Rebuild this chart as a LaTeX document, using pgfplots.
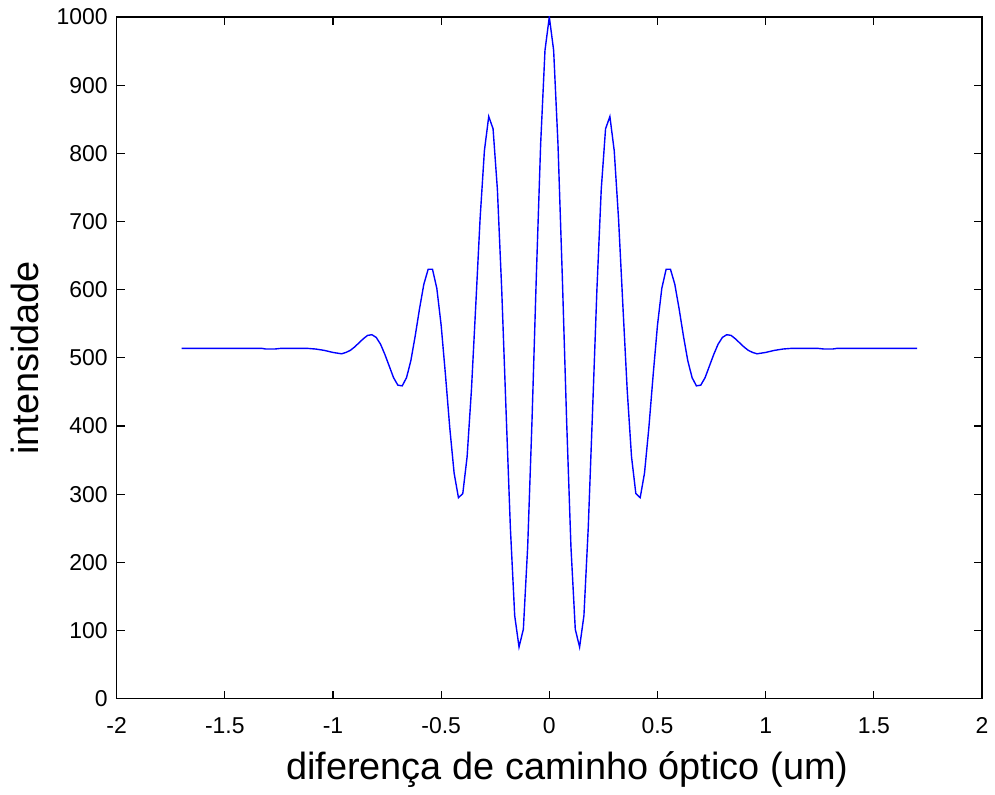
\documentclass[border=0pt]{standalone}
\usepackage{fontspec}
\setmainfont{Liberation Sans}
\usepackage{pgfplots}
\pgfplotsset{compat=1.18}

\begin{document}
\begin{tikzpicture}
\begin{axis}[
    scale only axis,
    width=434pt, height=342pt,
    xmin=-2, xmax=2, ymin=0, ymax=1000,
    xtick={-2,-1.5,...,2},
    ytick={0,100,...,1000},
    tick align=inside,
    major tick length=4pt,
    tick style={black, line width=0.6pt},
    axis line style={line width=0.6pt},
    /pgf/number format/assume math mode=true,
    /pgf/number format/.cd, fixed, 1000 sep={},
    /pgfplots/.cd,
    ticklabel style={font=\fontsize{11.5}{13}\selectfont},
    xticklabel style={yshift=-6pt},
    yticklabel style={xshift=-1pt},
    label style={font=\fontsize{19}{22}\selectfont},
    xlabel={diferença de caminho óptico (um)},
    ylabel={intensidade},
    xlabel style={yshift=-2pt, xshift=9pt},
    ylabel style={yshift=2pt},
]
\addplot[color={rgb,255:red,0;green,0;blue,255}, line width=0.7pt, line join=miter] coordinates {
(-1.70,514) (-1.33,514) (-1.31,513) (-1.27,513) (-1.24,514) (-1.12,514) (-1.08,513) (-1.04,511)
(-1.00,508) (-0.98,507) (-0.96,506) (-0.94,508) (-0.92,511) (-0.90,516) (-0.88,522) (-0.86,528)
(-0.84,533) (-0.82,534) (-0.80,530) (-0.78,520) (-0.76,505) (-0.74,488) (-0.72,471) (-0.70,460)
(-0.68,459) (-0.66,471) (-0.64,496) (-0.62,532) (-0.60,572) (-0.58,608) (-0.56,630) (-0.54,630)
(-0.52,602) (-0.50,548) (-0.48,475) (-0.46,397) (-0.44,331) (-0.42,295) (-0.40,301) (-0.38,355)
(-0.36,453) (-0.34,577) (-0.32,704) (-0.30,804) (-0.28,854) (-0.26,836) (-0.24,747) (-0.22,600)
(-0.20,423) (-0.18,251) (-0.16,122) (-0.14,76) (-0.12,102) (-0.10,223) (-0.08,408) (-0.06,620)
(-0.04,814) (-0.02,951)
(0,1000)
(0.02,951) (0.04,814) (0.06,620) (0.08,408) (0.10,223) (0.12,102) (0.14,76) (0.16,122)
(0.18,251) (0.20,423) (0.22,600) (0.24,747) (0.26,836) (0.28,854) (0.30,804) (0.32,704)
(0.34,577) (0.36,453) (0.38,355) (0.40,301) (0.42,295) (0.44,331) (0.46,397) (0.48,475)
(0.50,548) (0.52,602) (0.54,630) (0.56,630) (0.58,608) (0.60,572) (0.62,532) (0.64,496)
(0.66,471) (0.68,459) (0.70,460) (0.72,471) (0.74,488) (0.76,505) (0.78,520) (0.80,530)
(0.82,534) (0.84,533) (0.86,528) (0.88,522) (0.90,516) (0.92,511) (0.94,508) (0.96,506)
(0.98,507) (1.00,508) (1.04,511) (1.08,513) (1.12,514) (1.24,514) (1.27,513) (1.31,513)
(1.33,514) (1.70,514)
};
\end{axis}
\path (current axis.south west) ++(-58.5pt,-43pt);
\path (current axis.north east) ++(5pt,8.5pt);
\end{tikzpicture}
\end{document}
